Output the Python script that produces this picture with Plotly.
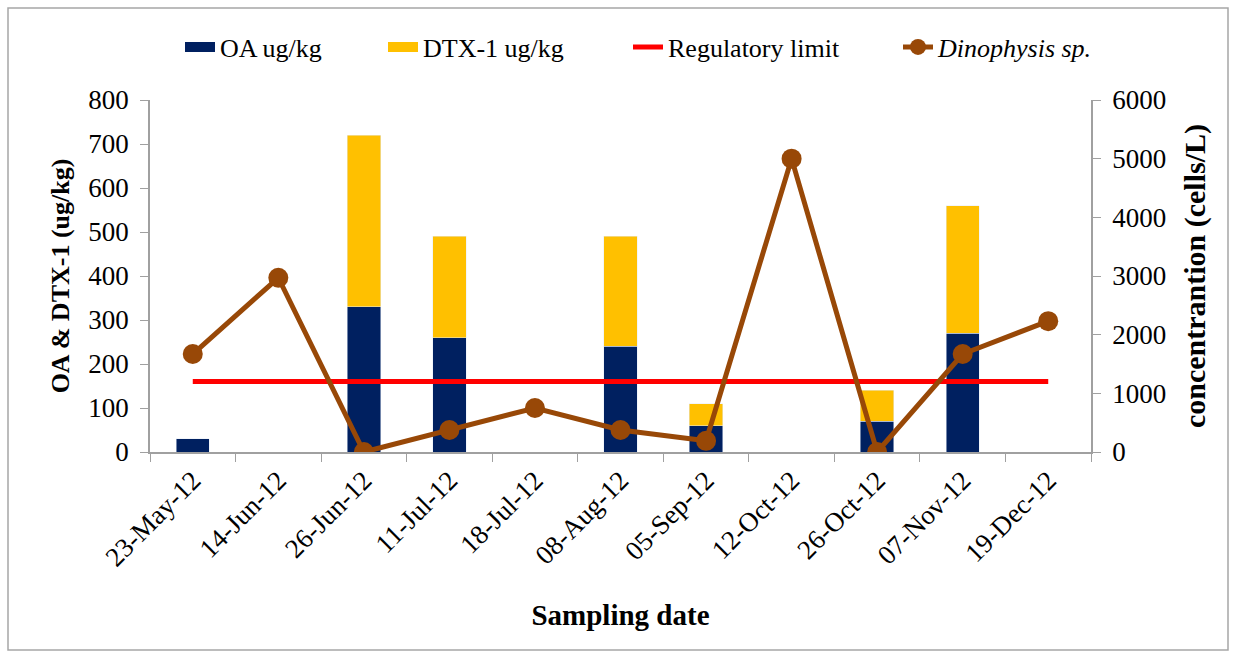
import plotly.graph_objects as go

dates = ["23-May-12", "14-Jun-12", "26-Jun-12", "11-Jul-12", "18-Jul-12", "08-Aug-12",
         "05-Sep-12", "12-Oct-12", "26-Oct-12", "07-Nov-12", "19-Dec-12"]
oa = [30, None, 330, 260, None, 240, 60, None, 70, 270, None]
dtx1 = [None, None, 390, 230, None, 250, 50, None, 70, 290, None]
regulatory_limit = [160] * len(dates)
dinophysis = [1670, 2970, 0, 375, 750, 375, 190, 5000, 0, 1670, 2230]

FONT = "Liberation Serif, Times New Roman, serif"
AXIS_GREY = "#a0a0a0"
NAVY = "#002060"
GOLD = "#FFC000"
RED = "#FF0000"
BROWN = "#984807"

fig = go.Figure()
fig.add_trace(go.Bar(x=dates, y=oa, name="OA ug/kg", marker_color=NAVY, showlegend=False))
fig.add_trace(go.Bar(x=dates, y=dtx1, name="DTX-1 ug/kg", marker_color=GOLD, showlegend=False))
fig.add_trace(go.Scatter(x=dates, y=regulatory_limit, name="Regulatory limit", mode="lines",
                         line=dict(color=RED, width=5), legend="legend3"))
fig.add_trace(go.Scatter(x=dates, y=dinophysis, name="<i>Dinophysis sp.</i>", yaxis="y2",
                         mode="lines+markers", line=dict(color=BROWN, width=5),
                         marker=dict(color=BROWN, size=20), legend="legend4"))

# wide swatch-style legend keys for the two stacked bar series
fig.add_trace(go.Scatter(x=[None], y=[None], name="OA ug/kg", mode="lines",
                         line=dict(color=NAVY, width=16), legend="legend"))
fig.add_trace(go.Scatter(x=[None], y=[None], name="DTX-1 ug/kg", mode="lines",
                         line=dict(color=GOLD, width=16), legend="legend2"))

plot_left, plot_width = 150, 941
plot_bottom, plot_height = 452, 352


def px_x(px):
    return (px - plot_left) / plot_width


def px_y(py):
    return (plot_bottom - py) / plot_height


def legend_at(px):
    return dict(x=px_x(px), y=px_y(47), xanchor="left", yanchor="middle",
                orientation="h", font=dict(size=26, family=FONT),
                bgcolor="rgba(0,0,0,0)", borderwidth=0)


fig.update_layout(
    width=1235, height=655,
    margin=dict(l=150, r=144, t=100, b=203, autoexpand=False),
    paper_bgcolor="white", plot_bgcolor="white",
    font=dict(family=FONT, color="black", size=26),
    barmode="stack", bargap=0.61,
    showlegend=True,
    legend=legend_at(180),
    legend2=legend_at(383),
    legend3=legend_at(628),
    legend4=legend_at(898),
    xaxis=dict(type="category", range=[-0.5, len(dates) - 0.5],
               tickson="boundaries", ticks="outside", ticklen=8,
               tickcolor=AXIS_GREY, showline=True, linecolor=AXIS_GREY, linewidth=1.5,
               tickangle=-45, tickfont=dict(size=27), showgrid=False, automargin=False,
               title=dict(text="<b>Sampling date</b>", font=dict(size=29), standoff=33)),
    yaxis=dict(range=[0, 800], dtick=100, ticks="outside", ticklen=8, tickcolor=AXIS_GREY,
               showline=True, linecolor=AXIS_GREY, linewidth=1.5, showgrid=False,
               zeroline=False, tickfont=dict(size=27), automargin=False,
               ticklabelstandoff=6,
               title=dict(text="<b>OA & DTX-1 (ug/kg)</b>", font=dict(size=26), standoff=11)),
    yaxis2=dict(range=[0, 6000], dtick=1000, overlaying="y", side="right", ticks="outside",
                ticklen=8, tickcolor=AXIS_GREY, showline=True, linecolor=AXIS_GREY,
                linewidth=1.5, showgrid=False, zeroline=False, tickfont=dict(size=27),
                automargin=False, ticklabelstandoff=6,
                title=dict(text="<b>concentrantion (cells/L)</b>", font=dict(size=30), standoff=19)),
)

# thin grey frame around the whole chart
fig.add_shape(type="rect", xref="paper", yref="paper",
              x0=px_x(8), x1=px_x(1228), y0=px_y(650), y1=px_y(8),
              line=dict(color="#a6a6a6", width=1.5), fillcolor="rgba(0,0,0,0)", layer="below")

fig.write_html("out.html")
